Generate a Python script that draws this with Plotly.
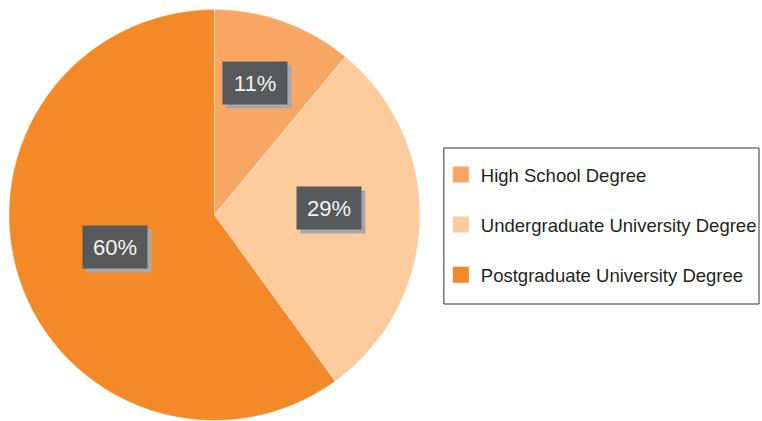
import math
import plotly.graph_objects as go

labels = ["High School Degree", "Undergraduate University Degree", "Postgraduate University Degree"]
values = [11, 29, 60]
colors = ["#F7A663", "#FDCB9C", "#F48928"]
label_radius = [0.67, 0.56, 0.51]  # how far out each % box sits
label_nudge = [-2.5, -5.5, 0]       # small angle tweak, degrees

W, H = 762, 421
cx, cy, R = 215, 215, 206

fig = go.Figure()
fig.add_trace(go.Pie(
    labels=labels, values=values, sort=False, direction="clockwise", rotation=0,
    marker=dict(colors=colors, line=dict(color="rgba(255,255,255,0.5)", width=0.7)),
    textinfo="none", hoverinfo="label+percent", showlegend=False,
    domain=dict(x=[(cx - R) / W, (cx + R) / W], y=[1 - (cy + R) / H, 1 - (cy - R) / H]),
))

# legend entries as dummy traces so the gap between rows can be set
for i, (lab, col) in enumerate(zip(labels, colors)):
    fig.add_trace(go.Scatter(
        x=[None], y=[None], mode="markers", name=lab, legendgroup=str(i),
        marker=dict(symbol="square", size=17, color=col, line=dict(width=0)),
    ))

# % boxes with a drop shadow
total = sum(values)
start = 0
annotations = []
for v, f, nd in zip(values, label_radius, label_nudge):
    mid = (start + v / 2) / total * 2 * math.pi + math.radians(nd)
    start += v
    px = cx + f * R * math.sin(mid)
    py = cy - f * R * math.cos(mid)
    pos = dict(x=px / W, y=1 - py / H, xref="paper", yref="paper", showarrow=False,
               xanchor="center", yanchor="middle", width=62, height=40)
    annotations.append(dict(pos, text="", bgcolor="#A6A8AB", xshift=4, yshift=-4))
    annotations.append(dict(pos, text=f"{v}%", bgcolor="#58595B",
                            font=dict(family="Liberation Sans, Arial", size=22, color="#F2F2F2")))

fig.update_layout(
    width=W, height=H,
    margin=dict(l=0, r=0, t=0, b=0),
    paper_bgcolor="white", plot_bgcolor="white",
    xaxis=dict(visible=False), yaxis=dict(visible=False),
    legend=dict(
        x=442 / W, y=1 - 156 / H, xanchor="left", yanchor="top",
        traceorder="grouped", tracegroupgap=23,
        font=dict(family="Liberation Sans, Arial", size=18.5, color="#231F20"),
        bgcolor="rgba(0,0,0,0)", borderwidth=0,
    ),
    annotations=annotations,
    shapes=[dict(type="rect", xref="paper", yref="paper",
                 x0=445 / W, x1=761 / W, y0=1 - 304 / H, y1=1 - 148 / H,
                 line=dict(color="#333333", width=1), fillcolor="rgba(0,0,0,0)")],
)

# drop the default page margin so the figure fills the window
fig.write_html("out.html", config={"displayModeBar": False},
               post_script="document.body.style.margin='0';")
